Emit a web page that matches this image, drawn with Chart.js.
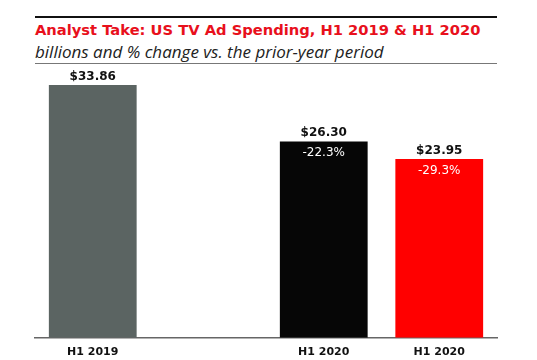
<!DOCTYPE html>
<html>
<head>
<meta charset="utf-8">
<script src="https://cdn.jsdelivr.net/npm/chart.js@4"></script>
<style>
  body { margin: 0; background: #fff; width: 537px; height: 360px; overflow: hidden; position: relative; }
  #topRule { position: absolute; left: 35px; top: 16px; width: 462px; height: 2px; background: #111; }
  #title { position: absolute; left: 35px; top: 21px; font: bold 14.7px "DejaVu Sans", sans-serif; color: #e8101c; white-space: nowrap; }
  #subtitle { position: absolute; left: 35px; top: 40px; font: italic 17px "Open Sans", sans-serif; color: #222; white-space: nowrap; }
  #subRule { position: absolute; left: 35px; top: 63px; width: 462px; height: 1px; background: #777; }
  #wrap { position: absolute; left: 0; top: 0; width: 537px; height: 360px; }
</style>
</head>
<body>
<div id="topRule"></div>
<div id="title">Analyst Take: US TV Ad Spending, H1 2019 &amp; H1 2020</div>
<div id="subtitle">billions and % change vs. the prior-year period</div>
<div id="subRule"></div>
<div id="wrap"><canvas id="tvChart"></canvas></div>
<script>
// values
var categories = ['H1 2019', '', 'H1 2020', 'H1 2020'];
var spending = [33.86, null, 26.30, 23.95];
var changes = [null, null, -22.3, -29.3];

var barLabels = {
	id: 'barLabels',
	afterDatasetsDraw: function(chart) {
		var ctx = chart.ctx;
		var meta = chart.getDatasetMeta(0);
		ctx.save();
		ctx.textAlign = 'center';
		meta.data.forEach(function(bar, i) {
			if (spending[i] == null) return;
			ctx.fillStyle = '#111';
			ctx.font = 'bold 12px "DejaVu Sans", sans-serif';
			ctx.textBaseline = 'alphabetic';
			ctx.fillText('$' + spending[i].toFixed(2), bar.x, bar.y - 5);
			if (changes[i] != null) {
				ctx.fillStyle = '#fff';
				ctx.font = '12px "DejaVu Sans", sans-serif';
				ctx.fillText(changes[i].toFixed(1) + '%', bar.x, bar.y + 15);
			}
		});
		ctx.restore();
	}
};

function loadChart() {
	var ctx = document.getElementById('tvChart');
	var myChart = new Chart(ctx, {
		type: 'bar',
		data: {
			labels: categories,
			datasets: [{
				data: spending,
				backgroundColor: ['#5b6462', '#5b6462', '#060606', '#ff0000'],
				categoryPercentage: 1,
				barPercentage: 0.76
			}]
		},
		options: {
			responsive: false,
			animation: false,
			layout: { padding: { left: 35, right: 40, top: 69, bottom: -7 } },
			plugins: { legend: { display: false }, tooltip: { enabled: false } },
			scales: {
				y: { display: false, min: 0, max: 36 },
				x: {
					grid: { display: false, drawTicks: false },
					border: { display: true, color: '#666', width: 1.5 },
					ticks: { color: '#111', font: { family: 'DejaVu Sans', weight: 'bold', size: 11 }, padding: 8 }
				}
			}
		},
		plugins: [barLabels]
	});
}

var c = document.getElementById('tvChart');
c.width = 537; c.height = 360;
loadChart();
</script>
</body>
</html>
